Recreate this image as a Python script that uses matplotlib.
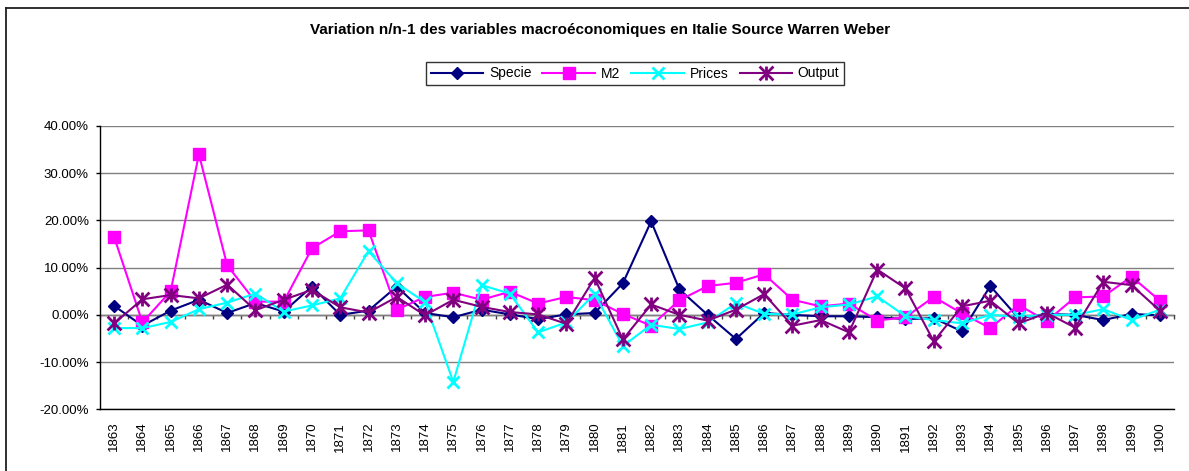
import numpy as np
import matplotlib
matplotlib.use("Agg")
import matplotlib.pyplot as plt
from matplotlib.path import Path
from matplotlib.lines import Line2D
from matplotlib.ticker import FuncFormatter

years = list(range(1863, 1901))

specie = [1.9, -2.3, 0.9, 3.2, 0.4, 2.5, 0.7, 6.0, 0.0, 0.9,
          6.0, 0.4, -0.5, 1.1, 0.1, -0.9, 0.1, 0.4, 6.7, 19.8,
          5.4, 0.0, -5.1, 0.4, 0.0, -0.3, -0.3, -0.5, -0.9, -0.7,
          -3.5, 6.1, -0.7, 0.2, 0.0, -1.1, 0.2, -0.1]
m2 = [16.5, -1.6, 5.0, 34.0, 10.5, 2.8, 2.8, 14.1, 17.7, 17.9,
      1.1, 3.8, 4.7, 3.2, 4.9, 2.4, 3.8, 3.1, 0.2, -2.3,
      3.1, 6.1, 6.8, 8.6, 3.2, 1.8, 2.4, -1.2, -0.5, 3.8,
      0.3, -2.8, 2.1, -1.3, 3.7, 3.9, 8.1, 3.0]
prices = [-2.8, -2.8, -1.5, 1.2, 2.6, 4.5, 0.7, 2.0, 3.5, 13.5,
          6.7, 2.7, -14.2, 6.3, 4.5, -3.7, -1.6, 4.4, -6.6, -2.1,
          -3.0, -1.6, 2.5, 0.2, 0.1, 1.6, 2.2, 3.9, -0.3, -1.1,
          -1.8, 0.0, -0.4, 0.0, 0.0, 1.2, -1.1, 1.1]
output = [-1.8, 3.3, 4.2, 3.5, 6.4, 1.0, 3.2, 5.3, 1.6, 0.5,
          3.8, -0.1, 3.2, 1.7, 0.6, 0.1, -1.9, 7.8, -5.2, 2.2,
          0.0, -1.2, 1.1, 4.4, -2.3, -1.1, -3.7, 9.6, 5.6, -5.6,
          1.8, 3.0, -1.8, 0.4, -2.7, 7.0, 6.3, 0.9]

series_names = ["Specie", "M2", "Prices", "Output"]
yticks = [-20, -10, 0, 10, 20, 30, 40]
title = "Variation n/n-1 des variables macroéconomiques en Italie Source Warren Weber"

plt.rcParams['font.family'] = ['Liberation Sans', 'DejaVu Sans']

fig = plt.figure(figsize=(11.89, 4.71), dpi=100)
W, H = 1189, 471
left, right, top, bottom = 100, 1174, 126, 409.3
ax = fig.add_axes([left / W, 1 - bottom / H, (right - left) / W, (bottom - top) / H])

x = np.arange(len(years))

aster = Path([(0, -0.5), (0, 0.5), (-0.5, -0.5), (0.5, 0.5), (-0.5, 0.5), (0.5, -0.5)],
             [Path.MOVETO, Path.LINETO, Path.MOVETO, Path.LINETO, Path.MOVETO, Path.LINETO])

styles = [
    dict(color="#000080", marker="D", markersize=6.5, markerfacecolor="#000080", markeredgecolor="#000080"),
    dict(color="#FF00FF", marker="s", markersize=8, markerfacecolor="#FF00FF", markeredgecolor="#FF00FF"),
    dict(color="#00FFFF", marker="x", markersize=9, markeredgewidth=2, markeredgecolor="#00FFFF"),
    dict(color="#800080", marker=aster, markersize=10, markeredgewidth=2, markeredgecolor="#800080",
         markerfacecolor="none"),
]
for name, vals, st in zip(series_names, [specie, m2, prices, output], styles):
    ax.plot(x, vals, label=name, linewidth=1.5, zorder=3, **st)

ax.set_xlim(-0.5, len(years) - 0.5)
ax.set_ylim(-20, 40)
ax.set_yticks(yticks)
ax.yaxis.set_major_formatter(FuncFormatter(lambda v, p: f"{v:.2f}%"))
ax.set_xticks(x)
ax.set_xticklabels([str(y) for y in years], rotation=90)
ax.tick_params(axis='x', length=0, pad=9, labelsize=9.5)
ax.tick_params(axis='y', length=3, width=1, pad=5, labelsize=9.5, direction='out')

ax.grid(axis='y', color='#808080', linewidth=1.0, zorder=0)
ax.set_axisbelow(True)
for s in ['top', 'right']:
    ax.spines[s].set_visible(False)
ax.spines['left'].set_linewidth(1.0)
ax.spines['bottom'].set_linewidth(1.0)

# category axis line crossing at 0 with tick marks between categories
sec = ax.secondary_xaxis(1 / 3)
sec.set_xticks(np.arange(len(years) + 1) - 0.5)
sec.set_xticklabels([])
sec.xaxis.set_ticks_position('bottom')
sec.tick_params(axis='x', direction='out', length=3, width=1, color='#404040')
for s in sec.spines.values():
    s.set_color('#404040')
    s.set_linewidth(1.0)

fig.text(0.505, 1 - 30 / H, title, ha='center', va='center', fontsize=11, fontweight='bold')

leg = fig.legend(loc='center', bbox_to_anchor=(635 / W, 1 - 73.5 / H), ncol=4, fontsize=10,
                 frameon=True, fancybox=False, edgecolor='black', handlelength=3.8,
                 columnspacing=0.8, handletextpad=0.4, borderpad=0.35)
leg.get_frame().set_linewidth(1.0)

fig.add_artist(Line2D([6 / W, 6 / W], [0, 1 - 7.5 / H], transform=fig.transFigure, color='#202020', lw=1.3))
fig.add_artist(Line2D([6 / W, 1], [1 - 7.5 / H, 1 - 7.5 / H], transform=fig.transFigure, color='#202020', lw=1.3))

fig.savefig("out.png", dpi=100)
